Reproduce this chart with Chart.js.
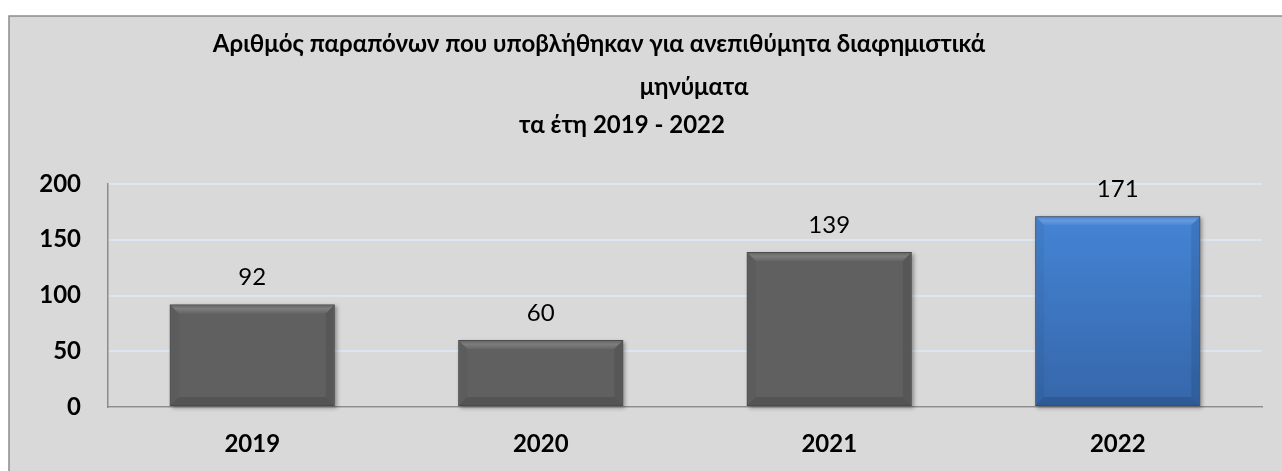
<!DOCTYPE html>
<html>
<head>
<meta charset="utf-8">
<script src="https://cdn.jsdelivr.net/npm/chart.js@4"></script>
<style>
  html, body { margin: 0; padding: 0; background: #ffffff; }
  #wrap { width: 1282px; height: 471px; position: relative; }
</style>
</head>
<body>
<div id="wrap"><canvas id="chart"></canvas></div>
<script>
// Δεδομένα
const years = ['2019', '2020', '2021', '2022'];
const complaints = [92, 60, 139, 171];
const yTicks = [0, 50, 100, 150, 200];
const titleLines = [
    'Αριθμός παραπόνων που υποβλήθηκαν για ανεπιθύμητα διαφημιστικά',
    'μηνύματα',
    'τα έτη 2019 - 2022'
];

const FONT = 'Lato, "Open Sans", sans-serif';

// Φόντο και πλαίσιο του γραφήματος
const backgroundPlugin = {
    id: 'panel',
    beforeDraw(chart) {
        const ctx = chart.ctx;
        ctx.save();
        ctx.fillStyle = '#ffffff';
        ctx.fillRect(0, 0, chart.width, chart.height);
        ctx.fillStyle = '#d9d9d9';
        ctx.fillRect(9, 16, chart.width, chart.height);
        ctx.strokeStyle = '#8c8c8c';
        ctx.lineWidth = 1.5;
        ctx.beginPath();
        ctx.moveTo(9, chart.height + 2);
        ctx.lineTo(9, 16);
        ctx.lineTo(chart.width + 2, 16);
        ctx.stroke();
        ctx.restore();
    }
};

// Τίτλος σε τρεις γραμμές (όχι κεντραρισμένες όπως στο πρωτότυπο)
const titlePlugin = {
    id: 'titleLines',
    afterDraw(chart) {
        const ctx = chart.ctx;
        const pos = [[599, 44], [694, 87], [622, 125]];
        ctx.save();
        ctx.fillStyle = '#000000';
        ctx.font = 'bold 24px ' + FONT;
        ctx.textAlign = 'center';
        ctx.textBaseline = 'middle';
        titleLines.forEach((line, i) => {
            ctx.fillText(line, pos[i][0], pos[i][1]);
        });
        ctx.restore();
    }
};

// Ανάγλυφο εφέ στις μπάρες + ετικέτες τιμών
const bevelPlugin = {
    id: 'bevel',
    beforeDatasetsDraw(chart) {
        const ctx = chart.ctx;
        const meta = chart.getDatasetMeta(0);
        ctx.save();
        ctx.shadowColor = 'rgba(0,0,0,0.35)';
        ctx.shadowBlur = 4;
        ctx.shadowOffsetX = 2;
        ctx.shadowOffsetY = 2;
        ctx.fillStyle = '#777777';
        meta.data.forEach(bar => {
            const l = bar.x - bar.width / 2;
            ctx.fillRect(l, bar.y, bar.width, bar.base - bar.y);
        });
        ctx.restore();
    },
    afterDatasetsDraw(chart) {
        const ctx = chart.ctx;
        const meta = chart.getDatasetMeta(0);
        const d = 8;
        ctx.save();
        meta.data.forEach((bar, i) => {
            const l = bar.x - bar.width / 2 + 1;
            const r = bar.x + bar.width / 2 - 1;
            const t = bar.y + 1;
            const b = bar.base - 1;

            // верх - светлая фаска
            const gTop = ctx.createLinearGradient(0, t, 0, t + d);
            gTop.addColorStop(0, 'rgba(255,255,255,0.05)');
            gTop.addColorStop(0.4, 'rgba(255,255,255,0.18)');
            gTop.addColorStop(1, 'rgba(255,255,255,0.04)');
            ctx.fillStyle = gTop;
            ctx.beginPath();
            ctx.moveTo(l, t); ctx.lineTo(r, t); ctx.lineTo(r - d, t + d); ctx.lineTo(l + d, t + d);
            ctx.closePath(); ctx.fill();

            // низ - тёмная фаска
            ctx.fillStyle = 'rgba(0,0,0,0.12)';
            ctx.beginPath();
            ctx.moveTo(l, b); ctx.lineTo(r, b); ctx.lineTo(r - d, b - d); ctx.lineTo(l + d, b - d);
            ctx.closePath(); ctx.fill();

            // бока
            ctx.fillStyle = 'rgba(0,0,0,0.04)';
            ctx.beginPath();
            ctx.moveTo(l, t); ctx.lineTo(l + d, t + d); ctx.lineTo(l + d, b - d); ctx.lineTo(l, b);
            ctx.closePath(); ctx.fill();
            ctx.fillStyle = 'rgba(0,0,0,0.09)';
            ctx.beginPath();
            ctx.moveTo(r, t); ctx.lineTo(r - d, t + d); ctx.lineTo(r - d, b - d); ctx.lineTo(r, b);
            ctx.closePath(); ctx.fill();

            // значение над столбцом
            ctx.fillStyle = '#000000';
            ctx.font = '24px ' + FONT;
            ctx.textAlign = 'center';
            ctx.textBaseline = 'middle';
            ctx.fillText(String(complaints[i]), bar.x, bar.y - 27);
        });
        ctx.restore();
    }
};

const ctx = document.getElementById('chart').getContext('2d');

new Chart(ctx, {
    type: 'bar',
    data: {
        labels: years,
        datasets: [{
            data: complaints,
            backgroundColor: (c) => {
                const area = c.chart.chartArea;
                if (!area) return '#606060';
                if (c.dataIndex === 3) {
                    const g = c.chart.ctx.createLinearGradient(0, area.top, 0, area.bottom);
                    g.addColorStop(0, '#4789dc');
                    g.addColorStop(1, '#3566a9');
                    return g;
                }
                return '#606060';
            },
            borderColor: (c) => c.dataIndex === 3 ? '#2d5080' : '#4a4a4a',
            borderWidth: 1,
            borderSkipped: false,
            categoryPercentage: 1.0,
            barPercentage: 0.572
        }]
    },
    options: {
        responsive: true,
        maintainAspectRatio: false,
        animation: false,
        layout: {
            padding: { top: 184, right: 20, left: 0, bottom: 0 }
        },
        plugins: {
            legend: { display: false },
            title: { display: false },
            tooltip: { enabled: false }
        },
        scales: {
            x: {
                grid: { display: false, drawTicks: false },
                border: { display: true, color: '#8c8c8c', width: 1.5 },
                ticks: {
                    color: '#000000',
                    font: { family: FONT, size: 24, weight: 'bold' },
                    padding: 23
                },
                afterFit(scale) { scale.height = 64; }
            },
            y: {
                min: 0,
                max: 200,
                afterBuildTicks(scale) {
                    scale.ticks = yTicks.map(v => ({ value: v }));
                },
                grid: {
                    color: '#dce6f2',
                    lineWidth: 2,
                    drawTicks: false
                },
                border: { display: true, color: '#8c8c8c', width: 1.5 },
                ticks: {
                    color: '#000000',
                    font: { family: FONT, size: 24, weight: 'bold' },
                    padding: 27
                },
                afterFit(scale) { scale.width = 108; }
            }
        }
    },
    plugins: [backgroundPlugin, titlePlugin, bevelPlugin]
});
</script>
</body>
</html>
